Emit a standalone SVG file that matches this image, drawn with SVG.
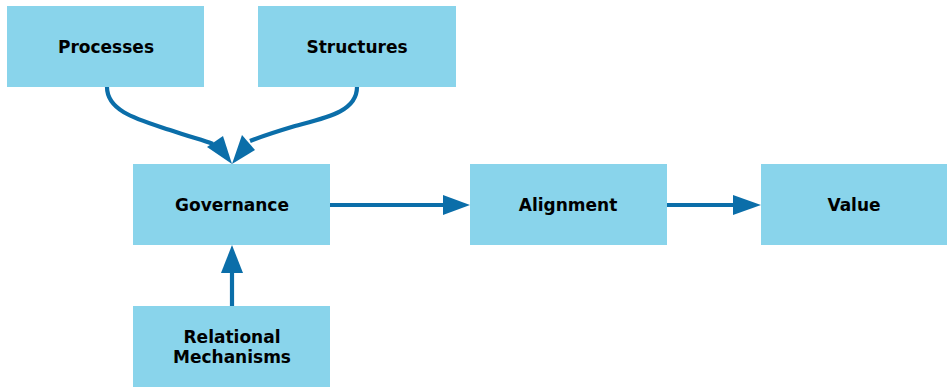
<svg xmlns="http://www.w3.org/2000/svg" width="947" height="390" viewBox="0 0 947 390">
<style>
.box{fill:#89d4eb}
.lbl{font-family:"DejaVu Sans",Verdana,sans-serif;font-weight:bold;font-size:17px;fill:#000;text-anchor:middle}
.ln{fill:none;stroke:#0b6ea9;stroke-width:4.2}
.head{fill:#0b6ea9}
</style>
<rect width="947" height="390" fill="#fff"/>
<g id="processes"><rect class="box" x="7" y="6" width="197" height="81"/><text class="lbl" x="106" y="53">Processes</text></g>
<g id="structures"><rect class="box" x="258" y="6" width="198" height="81"/><text class="lbl" x="357" y="53">Structures</text></g>
<g id="governance"><rect class="box" x="133" y="164" width="197" height="81"/><text class="lbl" x="232" y="211">Governance</text></g>
<g id="alignment"><rect class="box" x="470" y="164" width="197" height="81"/><text class="lbl" x="568" y="211">Alignment</text></g>
<g id="value"><rect class="box" x="761" y="164" width="186" height="81"/><text class="lbl" x="854" y="211">Value</text></g>
<g id="relational"><rect class="box" x="133" y="306" width="197" height="81"/><text class="lbl" x="232" y="343">Relational</text><text class="lbl" x="232" y="363">Mechanisms</text></g>
<g id="connectors">
<path class="ln" d="M107,87 C107,112 140,120 170,130 C190,137 203,140 213,144"/>
<polygon class="head" points="207,147 223,136 232,164"/>
<path class="ln" d="M357,87 C357,112 325,118 295,126 C275,132 260,137 250,141"/>
<polygon class="head" points="255,150 242,135 232,164"/>
<path class="ln" d="M330,205 L446,205"/>
<polygon class="head" points="443,195 470,205 443,215"/>
<path class="ln" d="M667,205 L736,205"/>
<polygon class="head" points="733,195 761,205 733,215"/>
<path class="ln" d="M232,306 L232,270"/>
<polygon class="head" points="221,273 232,245 243,273"/>
</g>
</svg>
